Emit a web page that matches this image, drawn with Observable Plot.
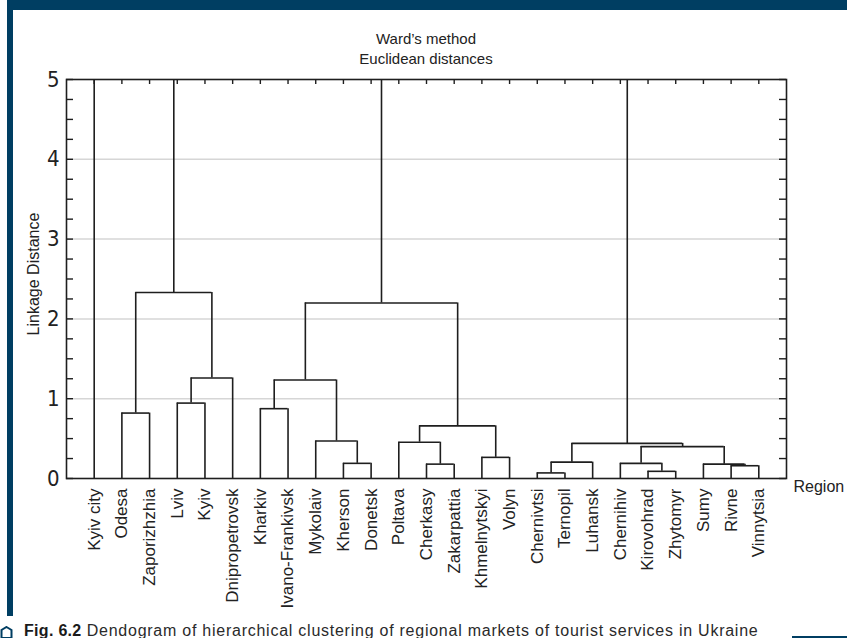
<!DOCTYPE html>
<html>
<head>
<meta charset="utf-8">
<script src="https://cdn.jsdelivr.net/npm/d3@7"></script>
<script src="https://cdn.jsdelivr.net/npm/@observablehq/plot@0.6"></script>
<style>
  html, body { margin: 0; padding: 0; background: #fff; }
  #page { position: relative; width: 847px; height: 638px; overflow: hidden; background: #fff;
          font-family: "Liberation Sans", Arial, sans-serif; color: #222; }
  .bar { position: absolute; background: #003e62; }
  #title { position: absolute; left: 66px; width: 720px; top: 29px; text-align: center;
           font-size: 15px; line-height: 20px; color: #222; }
  #chart { position: absolute; left: 0; top: 70px; }
  #caption { position: absolute; left: 24px; top: 623px; font-size: 16px; line-height: 16px;
             letter-spacing: 0.75px; white-space: nowrap; color: #2a2a2a; }
  #caption b { color: #1a1a1a; letter-spacing: 0.3px; }
  #hex { position: absolute; left: 0; top: 626px; }
</style>
</head>
<body>
<div id="page">
  <div class="bar" style="left:7px; top:0; width:840px; height:10px;"></div>
  <div class="bar" style="left:7px; top:0; width:6px; height:616px;"></div>
  <div id="title">Ward’s method<br>Euclidean distances</div>
  <div id="chart"></div>
  <svg id="hex" width="13" height="13" viewBox="0 0 13 13"><polygon points="6.5,1 11.5,4 11.5,12 1.5,12 1.5,4" fill="none" stroke="#003e62" stroke-width="2"/></svg>
  <div id="caption"><b>Fig. 6.2</b> Dendogram of hierarchical clustering of regional markets of tourist services in Ukraine</div>
  <div class="bar" style="left:792px; top:636px; width:55px; height:2px;"></div>
</div>
<script>
// Leaves in dendrogram order
const leaves = ["Kyiv city","Odesa","Zaporizhzhia","Lviv","Kyiv","Dnipropetrovsk","Kharkiv","Ivano-Frankivsk",
  "Mykolaiv","Kherson","Donetsk","Poltava","Cherkasy","Zakarpattia","Khmelnytskyi","Volyn","Chernivtsi",
  "Ternopil","Luhansk","Chernihiv","Kirovohrad","Zhytomyr","Sumy","Rivne","Vinnytsia"];

// Merges: children are leaf names or "#k" (k-th merge); heights = linkage distance
const mergeLeft  = ["Chernivtsi","Kirovohrad","Rivne","Cherkasy","Sumy","Kherson","Chernihiv","#0","Khmelnytskyi",
  "#6","#7","Poltava","Mykolaiv","#11","Odesa","Kharkiv","Lviv","#15","#16","#17","#14","#19","#20","Kyiv city"];
const mergeRight = ["Ternopil","Zhytomyr","Vinnytsia","Zakarpattia","#2","Donetsk","#1","Luhansk","Volyn",
  "#4","#9","#3","#5","#8","Zaporizhzhia","Ivano-Frankivsk","Kyiv","#12","Dnipropetrovsk","#13","#18","#10","#21","#22"];
// last three merges lie above the visible range (values estimated, clipped at 5)
const mergeHeight = [0.07,0.09,0.16,0.18,0.18,0.19,0.19,0.205,0.265,0.40,0.44,0.455,0.47,0.66,0.82,0.875,0.945,
  1.235,1.26,2.2,2.33,5.6,7.0,12];

const yTicks = [0,1,2,3,4,5];
const yGrid = [1,2,3,4];
const yMinorTicks = [0,0.25,0.5,0.75,1,1.25,1.5,1.75,2,2.25,2.5,2.75,3,3.25,3.5,3.75,4,4.25,4.5,4.75,5];
const xLabel = "Region";
const yLabel = "Linkage Distance";

// Build node positions (in leaf-index units) and segments
const nodes = [];
function pos(ref) {
  if (ref.startsWith("#")) return nodes[+ref.slice(1)];
  return {x: leaves.indexOf(ref), y: 0};
}
const verts = [], horiz = [];
mergeLeft.forEach((a, k) => {
  const A = pos(a), B = pos(mergeRight[k]), h = mergeHeight[k];
  verts.push({x: A.x, y1: A.y, y2: h});
  verts.push({x: B.x, y1: B.y, y2: h});
  horiz.push({y: h, x1: A.x, x2: B.x});
  nodes.push({x: (A.x + B.x) / 2, y: h});
});

const W = 847, H = 548, mL = 66, mR = 61, mT = 9, mB = 140;
const plotW = W - mL - mR, plotH = H - mT - mB;
const ink = "#1e1e1e";
const leafIdx = leaves.map((d, i) => i);

const chart = Plot.plot({
  width: W, height: H,
  marginLeft: mL, marginRight: mR, marginTop: mT, marginBottom: mB,
  style: {fontFamily: "'Liberation Sans', Arial, sans-serif", fontSize: "17px", color: "#222", background: "transparent", overflow: "visible"},
  x: {type: "linear", domain: [-1, leaves.length]},
  y: {domain: [0, 5]},
  marks: [
    Plot.ruleY(yGrid, {stroke: "#d6d6d6", strokeWidth: 1.5}),
    Plot.ruleX(verts, {x: "x", y1: "y1", y2: "y2", stroke: ink, strokeWidth: 1.6, clip: true}),
    Plot.ruleY(horiz, {y: "y", x1: "x1", x2: "x2", stroke: ink, strokeWidth: 1.6, clip: true}),
    Plot.frame({stroke: ink, strokeWidth: 1.6}),
    Plot.ruleY(yMinorTicks, {stroke: ink, strokeWidth: 1.4, insetRight: plotW - 7}),
    Plot.ruleY(yMinorTicks, {stroke: ink, strokeWidth: 1.4, insetLeft: plotW - 7}),
    Plot.ruleX(leafIdx, {stroke: ink, strokeWidth: 1.4, insetBottom: plotH - 5}),
    Plot.axisX(leafIdx, {tickFormat: i => leaves[i], tickRotate: -90, tickSize: 0, tickPadding: 10, fontSize: 17, label: null}),
    Plot.axisY(yTicks, {tickSize: 0, tickPadding: 7, fontSize: 22, label: null, tickFormat: d => String(d),
      fontFamily: "'Liberation Sans Narrow', 'DejaVu Sans Condensed', 'Liberation Sans', sans-serif"}),
    Plot.text([yLabel], {frameAnchor: "left", rotate: -90, textAnchor: "middle", dx: -33, dy: -5, fontSize: 16, fill: "#222"}),
    Plot.text([xLabel], {frameAnchor: "bottom-right", dx: 7, dy: 13, textAnchor: "start", fontSize: 16, fill: "#222"})
  ]
});
document.getElementById("chart").appendChild(chart);
</script>
</body>
</html>
